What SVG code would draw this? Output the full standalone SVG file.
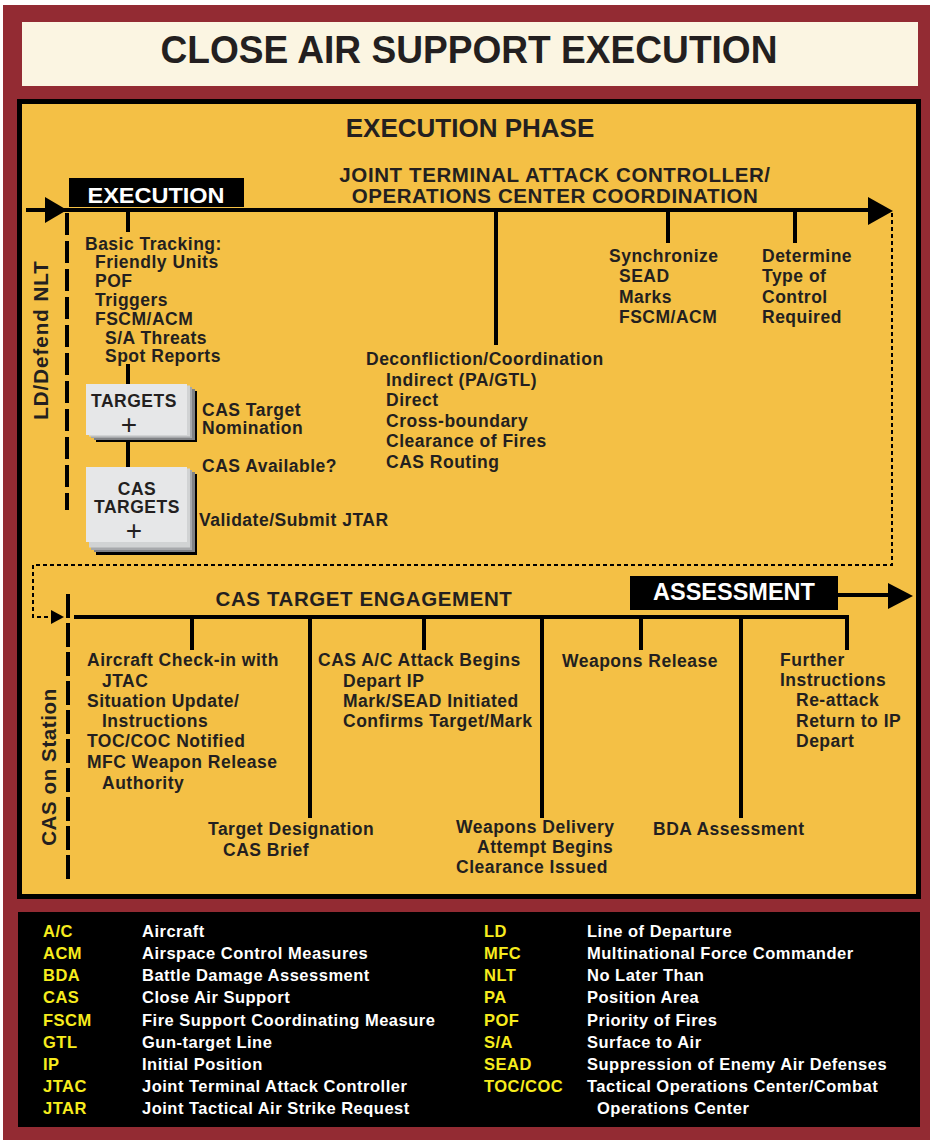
<svg xmlns="http://www.w3.org/2000/svg" width="933" height="1140" viewBox="0 0 933 1140">
<style>
text{font-family:"Liberation Sans",Arial,sans-serif;font-weight:bold;fill:#231F20}
.b{font-size:17.5px;letter-spacing:0.5px}
.h{font-size:20.5px;letter-spacing:0.6px}
.w{fill:#FFFFFF}
.lg{font-size:16.5px;letter-spacing:0.5px}
.ly{fill:#F7EC1D}
.lw{fill:#FFFFFF}
.pl{font-size:28px;font-weight:normal}
.ln{stroke:#000;stroke-width:4;fill:none}
.dash1{stroke:#000;stroke-width:4;fill:none;stroke-dasharray:22 6}
.dot{stroke:#000;stroke-width:2;fill:none;stroke-dasharray:4 3}
.tri{fill:#000}
</style>
<rect x="0" y="0" width="933" height="1140" fill="#FFFFFF"/>
<rect x="3" y="5" width="927" height="1135" fill="#932B33"/>
<g id="title">
<rect x="22" y="22" width="896" height="64" fill="#FBF5E2"/>
<text x="469" y="63" font-size="39" text-anchor="middle" textLength="617" lengthAdjust="spacingAndGlyphs">CLOSE AIR SUPPORT EXECUTION</text>
</g>
<rect x="17" y="99" width="904" height="800" fill="#000"/>
<rect x="22" y="104" width="894" height="790" fill="#F4C045"/>
<g id="phase-title">
<text x="470" y="137" font-size="26" text-anchor="middle">EXECUTION PHASE</text>
</g>
<g id="jtac-coordination">
<text x="555" y="182" class="h" text-anchor="middle">JOINT TERMINAL ATTACK CONTROLLER/</text>
<text x="555" y="203" class="h" text-anchor="middle">OPERATIONS CENTER COORDINATION</text>
</g>

<g id="connectors">
<line x1="26" y1="210" x2="872" y2="210" class="ln"/>
<polygon points="45,197 67,210 45,223" class="tri"/>
<polygon points="868,197 893,211 868,225" class="tri"/>
<line x1="67" y1="213" x2="67" y2="510" class="dash1"/>
<line x1="128" y1="210" x2="128" y2="232" class="ln"/>
<line x1="496" y1="210" x2="496" y2="345" class="ln"/>
<line x1="668" y1="210" x2="668" y2="243" class="ln"/>
<line x1="795" y1="210" x2="795" y2="243" class="ln"/>
<line x1="128" y1="364" x2="128" y2="384" class="ln"/>
<line x1="128" y1="435" x2="128" y2="467" class="ln"/>
<path d="M892,213 V565 H33 V617 H52" class="dot"/>
<polygon points="51,610 64,617 51,624" class="tri"/>
<line x1="68" y1="594" x2="68" y2="880" stroke="#000" stroke-width="4" stroke-dasharray="24 5"/>
<path d="M74,617 H847 V650" class="ln"/>
<line x1="192" y1="617" x2="192" y2="650" class="ln"/>
<line x1="310" y1="617" x2="310" y2="818" class="ln"/>
<line x1="424" y1="617" x2="424" y2="650" class="ln"/>
<line x1="542" y1="617" x2="542" y2="818" class="ln"/>
<line x1="641" y1="617" x2="641" y2="650" class="ln"/>
<line x1="741" y1="617" x2="741" y2="818" class="ln"/>
<line x1="836" y1="595" x2="890" y2="595" class="ln"/>
<polygon points="888,583 913,596 888,609" class="tri"/>
</g>

<g id="execution-label">
<rect x="69" y="178" width="175" height="29" fill="#000"/>
<text x="156" y="203" font-size="22" class="w" text-anchor="middle" textLength="137" lengthAdjust="spacingAndGlyphs">EXECUTION</text>
</g>

<g id="ld-defend">
<text transform="translate(48,340) rotate(-90)" class="h" text-anchor="middle" style="letter-spacing:1px">LD/Defend NLT</text>
</g>

<g id="basic-tracking">
<text x="85" y="250" class="b">Basic Tracking:</text>
<text x="95" y="268" class="b">Friendly Units</text>
<text x="95" y="287" class="b">POF</text>
<text x="95" y="306" class="b">Triggers</text>
<text x="95" y="325" class="b">FSCM/ACM</text>
<text x="105" y="344" class="b">S/A Threats</text>
<text x="105" y="362" class="b">Spot Reports</text>
</g>

<g id="targets">
<rect x="96" y="391" width="101" height="51" fill="#000"/>
<rect x="94" y="389" width="101" height="51" fill="#808285"/>
<rect x="91" y="387" width="101" height="51" fill="#A7A9AC"/>
<rect x="89" y="385.5" width="101" height="51" fill="#D1D3D4"/>
<rect x="86" y="384" width="101" height="51" fill="#E6E7E8"/>
<text x="134" y="407" class="b" text-anchor="middle">TARGETS</text>
<text x="129" y="434" class="pl" text-anchor="middle">+</text>
</g>
<g id="cas-target-nomination">
<text x="202" y="416" class="b">CAS Target</text>
<text x="202" y="434" class="b">Nomination</text>
</g>
<g id="cas-available">
<text x="202" y="472" class="b">CAS Available?</text>
</g>

<g id="cas-targets">
<rect x="96" y="474" width="101" height="81" fill="#000"/>
<rect x="94" y="472" width="101" height="80" fill="#808285"/>
<rect x="91" y="470" width="101" height="80" fill="#A7A9AC"/>
<rect x="89" y="468.5" width="101" height="79" fill="#D1D3D4"/>
<rect x="86" y="467" width="101" height="75" fill="#E6E7E8"/>
<text x="137" y="495" class="b" text-anchor="middle">CAS</text>
<text x="137" y="513" class="b" text-anchor="middle">TARGETS</text>
<text x="134" y="540" class="pl" text-anchor="middle">+</text>
</g>
<g id="validate-submit">
<text x="199" y="526" class="b">Validate/Submit JTAR</text>
</g>

<g id="deconfliction">
<text x="366" y="365" class="b">Deconfliction/Coordination</text>
<text x="386" y="386" class="b">Indirect (PA/GTL)</text>
<text x="386" y="406" class="b">Direct</text>
<text x="386" y="427" class="b">Cross-boundary</text>
<text x="386" y="447" class="b">Clearance of Fires</text>
<text x="386" y="468" class="b">CAS Routing</text>
</g>

<g id="synchronize">
<text x="609" y="262" class="b">Synchronize</text>
<text x="619" y="282" class="b">SEAD</text>
<text x="619" y="303" class="b">Marks</text>
<text x="619" y="323" class="b">FSCM/ACM</text>
</g>

<g id="determine">
<text x="762" y="262" class="b">Determine</text>
<text x="762" y="282" class="b">Type of</text>
<text x="762" y="303" class="b">Control</text>
<text x="762" y="323" class="b">Required</text>
</g>

<g id="cas-on-station">
<text transform="translate(56,767) rotate(-90)" class="h" text-anchor="middle">CAS on Station</text>
</g>

<g id="engagement-label">
<text x="364" y="606" class="h" text-anchor="middle">CAS TARGET ENGAGEMENT</text>
</g>

<g id="assessment-label">
<rect x="630" y="576" width="208" height="34" fill="#000"/>
<text x="734" y="600" font-size="23.5" class="w" text-anchor="middle">ASSESSMENT</text>
</g>

<g id="check-in">
<text x="87" y="666" class="b">Aircraft Check-in with</text>
<text x="102" y="687" class="b">JTAC</text>
<text x="87" y="707" class="b">Situation Update/</text>
<text x="102" y="727" class="b">Instructions</text>
<text x="87" y="747" class="b">TOC/COC Notified</text>
<text x="87" y="768" class="b">MFC Weapon Release</text>
<text x="102" y="789" class="b">Authority</text>
</g>

<g id="target-designation">
<text x="208" y="835" class="b">Target Designation</text>
<text x="223" y="856" class="b">CAS Brief</text>
</g>

<g id="attack-begins">
<text x="318" y="666" class="b">CAS A/C Attack Begins</text>
<text x="343" y="687" class="b">Depart IP</text>
<text x="343" y="707" class="b">Mark/SEAD Initiated</text>
<text x="343" y="727" class="b">Confirms Target/Mark</text>
</g>

<g id="weapons-delivery">
<text x="456" y="833" class="b">Weapons Delivery</text>
<text x="477" y="853" class="b">Attempt Begins</text>
<text x="456" y="873" class="b">Clearance Issued</text>
</g>

<g id="weapons-release">
<text x="562" y="667" class="b">Weapons Release</text>
</g>

<g id="bda-assessment">
<text x="653" y="835" class="b">BDA Assessment</text>
</g>

<g id="further-instructions">
<text x="780" y="666" class="b">Further</text>
<text x="780" y="686" class="b">Instructions</text>
<text x="796" y="706" class="b">Re-attack</text>
<text x="796" y="727" class="b">Return to IP</text>
<text x="796" y="747" class="b">Depart</text>
</g>

<g id="legend">
<rect x="18" y="912" width="902" height="215" fill="#000"/>
<text x="43" y="937" class="lg ly">A/C</text><text x="142" y="937" class="lg lw">Aircraft</text>
<text x="43" y="959" class="lg ly">ACM</text><text x="142" y="959" class="lg lw">Airspace Control Measures</text>
<text x="43" y="981" class="lg ly">BDA</text><text x="142" y="981" class="lg lw">Battle Damage Assessment</text>
<text x="43" y="1003" class="lg ly">CAS</text><text x="142" y="1003" class="lg lw">Close Air Support</text>
<text x="43" y="1026" class="lg ly">FSCM</text><text x="142" y="1026" class="lg lw">Fire Support Coordinating Measure</text>
<text x="43" y="1048" class="lg ly">GTL</text><text x="142" y="1048" class="lg lw">Gun-target Line</text>
<text x="43" y="1070" class="lg ly">IP</text><text x="142" y="1070" class="lg lw">Initial Position</text>
<text x="43" y="1092" class="lg ly">JTAC</text><text x="142" y="1092" class="lg lw">Joint Terminal Attack Controller</text>
<text x="43" y="1114" class="lg ly">JTAR</text><text x="142" y="1114" class="lg lw">Joint Tactical Air Strike Request</text>
<text x="484" y="937" class="lg ly">LD</text><text x="587" y="937" class="lg lw">Line of Departure</text>
<text x="484" y="959" class="lg ly">MFC</text><text x="587" y="959" class="lg lw">Multinational Force Commander</text>
<text x="484" y="981" class="lg ly">NLT</text><text x="587" y="981" class="lg lw">No Later Than</text>
<text x="484" y="1003" class="lg ly">PA</text><text x="587" y="1003" class="lg lw">Position Area</text>
<text x="484" y="1026" class="lg ly">POF</text><text x="587" y="1026" class="lg lw">Priority of Fires</text>
<text x="484" y="1048" class="lg ly">S/A</text><text x="587" y="1048" class="lg lw">Surface to Air</text>
<text x="484" y="1070" class="lg ly">SEAD</text><text x="587" y="1070" class="lg lw">Suppression of Enemy Air Defenses</text>
<text x="484" y="1092" class="lg ly">TOC/COC</text><text x="587" y="1092" class="lg lw">Tactical Operations Center/Combat</text>
<text x="597" y="1114" class="lg lw">Operations Center</text>
</g>
</svg>
